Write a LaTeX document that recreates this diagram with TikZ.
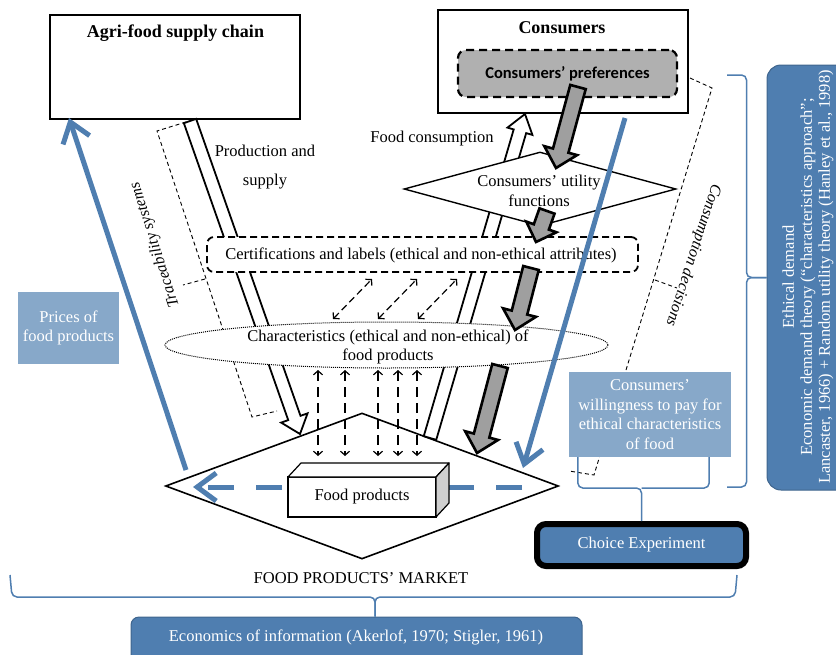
\documentclass[tikz,border=0pt]{standalone}
\usepackage{fontspec}
\setmainfont{Liberation Serif}
\newfontfamily\prefsfont{Carlito}
\usetikzlibrary{%
	calc,%
	arrows.meta,%
	shapes.geometric
}
\definecolor{infoblue}{RGB}{79,126,176}
\definecolor{paleblue}{RGB}{135,168,201}
\newcommand\txt{\fontsize{16.5}{19.5}\selectfont}
\newcommand\ttl{\fontsize{18}{21}\selectfont\bfseries}
% block arrow: [style]{from}{to}{shaft half width}{head half width}{head length}
\newcommand\blockarrow[6][]{%
	\coordinate (ba-h) at ($(#3)!#6pt!(#2)$);
	\draw[#1] ($(#2)!#4pt!90:(#3)$) -- ($(ba-h)!#4pt!90:(#3)$) -- ($(ba-h)!#5pt!90:(#3)$) -- (#3)
		-- ($(ba-h)!#5pt!-90:(#3)$) -- ($(ba-h)!#4pt!-90:(#3)$) -- ($(#2)!#4pt!-90:(#3)$) -- cycle;
}
\tikzset{
	lbl/.style={font=\txt,align=center,inner sep=0pt},
	title/.style={font=\ttl,inner sep=0pt},
	sidebox/.style={draw,line width=2pt,fill=white,minimum width=250pt,minimum height=104pt,inner sep=0pt},
	prefbox/.style={draw,line width=2.2pt,dash pattern=on 8pt off 5pt,rounded corners=8pt,fill=gray!62,
		minimum width=219pt,minimum height=47pt,font={\prefsfont\bfseries\fontsize{16.5}{19.5}\selectfont}},
	certbox/.style={draw,line width=1.8pt,dash pattern=on 7pt off 4pt,rounded corners=7pt,fill=white,
		minimum width=431pt,minimum height=35pt,inner sep=0pt},
	charbox/.style={ellipse,draw,line width=1pt,dash pattern=on 1pt off 1pt,fill=white,
		minimum width=443pt,minimum height=46pt,inner sep=0pt},
	utilbox/.style={diamond,draw,line width=1.4pt,fill=white,minimum width=272pt,minimum height=74pt,inner sep=0pt},
	marketbox/.style={diamond,draw,line width=1.6pt,fill=white,minimum width=393pt,minimum height=146pt,inner sep=0pt},
	cube/.style={draw,line width=1.2pt,fill=white,minimum width=148pt,minimum height=40pt,inner sep=0pt,outer sep=0pt,font=\txt},
	cubeface/.style={draw,line width=1.2pt,line join=round},
	palebox/.style={fill=paleblue,text=white,font=\txt,align=center,inner sep=0pt},
	bluebox/.style={fill=infoblue,draw=infoblue!80!black,line width=1pt,inner sep=0pt},
	hollow/.style={draw,line width=1.8pt,fill=white,line join=miter},
	greyarrow/.style={draw,line width=2.6pt,fill=gray!75,line join=miter},
	bluearrow/.style={draw=infoblue,line width=5pt,-{Straight Barb[length=19pt,width=28pt]}},
	dasharrow/.style={line width=1.2pt,dash pattern=on 7pt off 4pt,
		{Straight Barb[length=4pt,width=9pt]}-{Straight Barb[length=4pt,width=9pt]}},
	bracket/.style={line width=.9pt,dash pattern=on 4pt off 3pt},
	bracel/.style={draw=infoblue,line width=1.5pt,rounded corners=5pt},
	note/.style={font={\fontsize{16}{19}\selectfont\itshape},inner sep=0pt}
}

\begin{document}
\begin{tikzpicture}[x=1pt,y=-1pt]
	\useasboundingbox (0,0) rectangle (836,654);
	% market with the product in it
	\node[marketbox] (market) at (362,486) {};
	\coordinate (pricestail) at (522,487);
	\coordinate (pricestip) at (193,487);
	\draw[bluearrow,dash pattern=on 26pt off 22pt] (pricestail) -- (pricestip);
	\node[cube] (products) at (362,497) {Food products};
	\draw[cubeface,fill=white] (products.north west) -- ++(13,-14) -- ++(148,0) -- (products.north east) -- cycle;
	\draw[cubeface,fill=gray!38] (products.north east) -- ++(13,-14) -- ++(0,40) -- (products.south east) -- cycle;

	% supply and consumers
	\node[sidebox] (chain) at (175,67) {};
	\node[title] (chaintitle) at (175.5,33) {Agri-food supply chain};
	\node[sidebox,minimum height=103pt] (consumers) at (563,61.5) {};
	\node[title] (constitle) at (562,28) {Consumers};
	\node[prefbox] (prefs) at (567.5,73.5) {Consumers’ preferences};

	\coordinate (prodtail) at (190,121);
	\coordinate (prodtip) at (300,434);
	\blockarrow[hollow]{prodtail}{prodtip}{6.5}{14}{17}
	\coordinate (eattail) at (430,438);
	\coordinate (eattip) at (525,114);
	\blockarrow[hollow]{eattail}{eattip}{6.5}{13}{18}
	\node[lbl] (prodlbl) at (265,167.5) {Production and\\[9.5pt]supply};
	\node[lbl] (eatlbl) at (432,139) {Food consumption};

	% dashed brackets
	\draw[bracket] (186,122) -- (157,131) -- (252,417) -- (277,411);
	\draw[bracket] (205,279) -- (183,285);
	\node[note,rotate=108] (tracelbl) at (155,245) {Traceability systems};
	\draw[bracket] (690,78) -- (712,88) -- (594,475) -- (569,471);
	\draw[bracket] (655,280) -- (677,288);
	\node[note,rotate=-108] (decilbl) at (693,255) {Consumption decisions};

	\node[certbox] (certif) at (422.5,254.5) {};
	\node[lbl] (certiflbl) at (421,255) {Certifications and labels (ethical and non-ethical attributes)};
	\node[charbox] (charac) at (386.5,345) {};
	\node[lbl] (characlbl) at (388,347) {Characteristics (ethical and non-ethical) of\\food products};
	\node[utilbox] (utility) at (540,189) {};
	\node[lbl] (utilitylbl) at (539,191) {Consumers’ utility\\functions};

	% information flows
	\foreach \x in {333,378,418}
		\draw[dasharrow] (\x,319) -- ++(39,-40);
	\foreach \x in {318,345,378,398,417}
		\draw[dasharrow,dash pattern=on 10pt off 6pt] (\x,370) -- (\x,456);

	\coordinate (g1s) at (578,87);
	\coordinate (g1e) at (556,168);
	\coordinate (g2s) at (547,211);
	\coordinate (g2e) at (536,242);
	\coordinate (g3s) at (531,268);
	\coordinate (g3e) at (515,330);
	\coordinate (g4s) at (500,366);
	\coordinate (g4e) at (477,453);
	\blockarrow[greyarrow]{g1s}{g1e}{8}{17}{18}
	\blockarrow[greyarrow]{g2s}{g2e}{8}{16}{16}
	\blockarrow[greyarrow]{g3s}{g3e}{8}{17}{18}
	\blockarrow[greyarrow]{g4s}{g4e}{8}{17}{18}

	\coordinate (pricetail) at (186,470);
	\coordinate (pricetip) at (69,118);
	\draw[bluearrow] (pricetail) -- (pricetip);
	\coordinate (paytail) at (625,118);
	\coordinate (paytip) at (523,468);
	\draw[bluearrow] (paytail) -- (paytip);

	% side boxes
	\node[palebox,minimum width=101pt,minimum height=72pt] (prices) at (68.5,328) {Prices of\\food products};
	\node[palebox,minimum width=162pt,minimum height=85pt] (wtp) at (650,414.5)
		{Consumers’\\willingness to pay for\\ethical characteristics\\of food};
	\node[bluebox,draw=black,line width=6pt,rounded corners=9pt,minimum width=209pt,minimum height=42pt,
		text=white,font=\txt] (choice) at (641.5,545) {Choice Experiment};
	\node[bluebox,rounded corners=14pt,minimum width=103pt,minimum height=425pt] (ethical) at (818.5,277.5) {};
	\node[lbl,text=white,rotate=90,font={\fontsize{16.5}{18}\selectfont}] (ethicallbl) at (808,277)
		{Ethical demand\\Economic demand theory (“characteristics approach”;\\Lancaster, 1966) + Random utility theory (Hanley et al., 1998)};
	\node[bluebox,rounded corners=8pt,minimum width=451pt,minimum height=63pt] (econinfo) at (356.5,648.5) {};
	\node[lbl,text=white] (econinfolbl) at (356,637) {Economics of information (Akerlof, 1970; Stigler, 1961)};
	\node[lbl] (marketlbl) at (361,578) {FOOD PRODUCTS’ MARKET};

	% braces
	\coordinate (wtpbr) at ($(choice.north)+(0,-33)$);
	\draw[bracel] ($(wtp.south west)+(9,0)$) |- (wtpbr) -- (choice.north);
	\draw[bracel] ($(wtp.south east)+(-22,0)$) |- (wtpbr);
	\coordinate (ethbr) at ($(ethical.west)+(-20,0)$);
	\draw[bracel] (727,75) -| (ethbr) -- (ethical.west);
	\draw[bracel] (727,487) -| (ethbr) -- (ethical.west);
	\coordinate (mktbr) at (375,597);
	\draw[bracel] (10,575) -- (12,597) -- (mktbr) -- (mktbr |- econinfo.north);
	\draw[bracel] (737,575) -- (735,597) -- (mktbr) -- (mktbr |- econinfo.north);
\end{tikzpicture}
\end{document}
